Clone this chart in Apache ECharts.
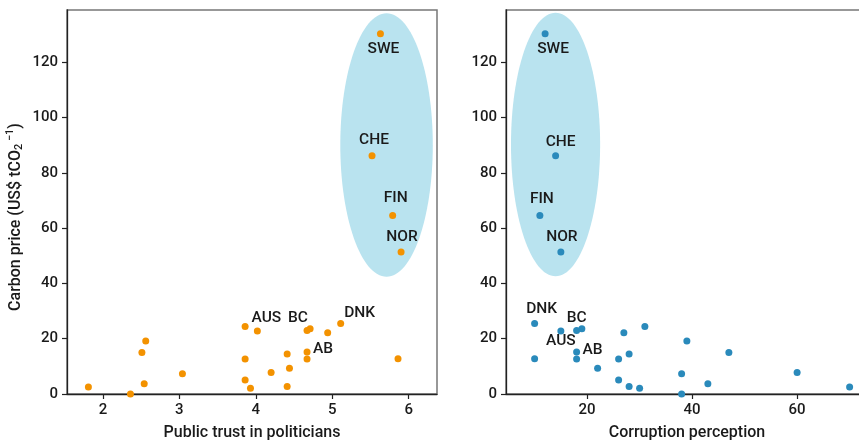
<!DOCTYPE html>
<html>
<head>
<meta charset="utf-8">
<script src="https://cdn.jsdelivr.net/npm/echarts@6/dist/echarts.min.js"></script>
<style>
  html, body { margin: 0; padding: 0; background: #ffffff; }
  #chart { width: 859px; height: 442px; }
</style>
</head>
<body>
<div id="chart"></div>
<script>
// Carbon price against public trust and corruption perception
const countries = ['SWE', 'CHE', 'FIN', 'NOR', 'DNK', '', '', 'BC', 'AUS', '', '', 'AB', '', '',
  '', '', '', '', '', '', '', '', '', '', '', ''];
const carbonPrice = [130.4, 86.2, 64.6, 51.4, 25.5, 24.4, 23.6, 23.0, 22.8, 22.2, 19.2, 15.2, 15.0,
  14.5, 12.8, 12.7, 12.7, 9.3, 7.8, 7.3, 5.1, 3.7, 2.7, 2.5, 2.1, 0];
const publicTrust = [5.63, 5.52, 5.79, 5.90, 5.11, 3.86, 4.71, 4.67, 4.02, 4.94, 2.56, 4.67, 2.51,
  4.41, 5.86, 4.67, 3.86, 4.44, 4.20, 3.04, 3.86, 2.54, 4.41, 1.81, 3.93, 2.36];
const corruption = [12, 14, 11, 15, 10, 31, 19, 18, 15, 27, 39, 18, 47,
  28, 10, 18, 26, 22, 60, 38, 26, 43, 28, 70, 30, 38];

// Highlight ellipses: [centre x, centre y, radius x, radius y] in data units
const trustCluster = [5.71, 90.1, 0.605, 47.7];
const corruptionCluster = [13.99, 90.3, 8.49, 47.7];

// tick positions
const priceTicks = [0, 20, 40, 60, 80, 100, 120];
const trustTicks = [2, 3, 4, 5, 6];
const corruptionTicks = [20, 40, 60];

// label placement (pixels from the dot centre)
const trustLabelOffsets = {
  SWE: [3, 15], CHE: [2, -16], FIN: [3, -17], NOR: [1, -15],
  DNK: [19, -10], AUS: [9, -13], BC: [-9, -12], AB: [16, -3]
};
const corruptionLabelOffsets = {
  SWE: [8, 15], CHE: [5, -14], FIN: [2, -16], NOR: [1, -15],
  DNK: [7, -14], BC: [0, -12], AUS: [0, 10], AB: [16, -2]
};

const FONT = 'Roboto';
const WEIGHT = 500;
const TEXT = '#1a1a1a';

function points(xs, offsets) {
  return xs.map((x, i) => {
    const item = { value: [x, carbonPrice[i]] };
    const name = countries[i];
    if (name) {
      item.label = {
        show: true, formatter: name, position: 'inside', offset: offsets[name],
        color: TEXT, fontFamily: FONT, fontWeight: WEIGHT, fontSize: 15.5
      };
    }
    return item;
  });
}

function ellipseItem(params, api) {
  const c = api.coord([api.value(0), api.value(1)]);
  const s = api.size([api.value(2), api.value(3)]);
  return {
    type: 'ellipse',
    shape: { cx: c[0], cy: c[1], rx: s[0], ry: s[1] },
    style: { fill: '#b9e3ef' }
  };
}

function axis(ticks, extra) {
  return Object.assign({
    type: 'value',
    axisLine: { show: true, onZero: false, lineStyle: { color: '#222', width: 1.3 } },
    axisTick: { show: true, length: 5, customValues: ticks, lineStyle: { color: '#222', width: 1.2 } },
    splitLine: { show: false },
    axisLabel: {
      customValues: ticks, margin: 9,
      color: TEXT, fontFamily: FONT, fontWeight: WEIGHT, fontSize: 15
    }
  }, extra);
}

const nameStyle = { color: TEXT, fontFamily: FONT, fontWeight: WEIGHT, fontSize: 16 };

const gridStyle = {
  top: 10, height: 384, show: true, borderColor: '#777', borderWidth: 1.5,
  backgroundColor: 'transparent', outerBoundsMode: 'none', containLabel: false
};

const chart = echarts.init(document.getElementById('chart'), null, { renderer: 'canvas' });
chart.setOption({
  animation: false,
  backgroundColor: '#ffffff',
  grid: [
    Object.assign({ left: 67, width: 370 }, gridStyle),
    Object.assign({ left: 506, width: 362 }, gridStyle)
  ],
  xAxis: [
    axis(trustTicks, {
      gridIndex: 0, min: 1.53, max: 6.37,
      name: 'Public trust in politicians', nameLocation: 'middle', nameGap: 31,
      nameTextStyle: nameStyle
    }),
    axis(corruptionTicks, {
      gridIndex: 1, min: 4.55, max: 73.5,
      name: 'Corruption perception', nameLocation: 'middle', nameGap: 31,
      nameTextStyle: nameStyle
    })
  ],
  yAxis: [
    axis(priceTicks, {
      gridIndex: 0, min: 0, max: 139,
      name: 'Carbon price (US$ tCO{sub|2}{sup| −1})',
      nameLocation: 'middle', nameGap: 41,
      nameTextStyle: Object.assign({}, nameStyle, {
        padding: [0, 30, 0, 0],
        rich: {
          sub: { fontFamily: FONT, fontWeight: WEIGHT, fontSize: 11, color: TEXT, padding: [8, 0, 0, 0] },
          sup: { fontFamily: FONT, fontWeight: WEIGHT, fontSize: 11, color: TEXT, padding: [0, 0, 10, 0] }
        }
      })
    }),
    axis(priceTicks, { gridIndex: 1, min: 0, max: 139 })
  ],
  series: [
    {
      type: 'custom', xAxisIndex: 0, yAxisIndex: 0, z: 1, silent: true,
      data: [trustCluster], renderItem: ellipseItem, encode: { x: 0, y: 1 }
    },
    {
      type: 'custom', xAxisIndex: 1, yAxisIndex: 1, z: 1, silent: true,
      data: [corruptionCluster], renderItem: ellipseItem, encode: { x: 0, y: 1 }
    },
    {
      type: 'scatter', xAxisIndex: 0, yAxisIndex: 0, z: 3,
      symbolSize: 7, itemStyle: { color: '#f39200', opacity: 1 },
      data: points(publicTrust, trustLabelOffsets)
    },
    {
      type: 'scatter', xAxisIndex: 1, yAxisIndex: 1, z: 3,
      symbolSize: 7, itemStyle: { color: '#2a8abb', opacity: 1 },
      data: points(corruption, corruptionLabelOffsets)
    }
  ]
});
</script>
</body>
</html>
